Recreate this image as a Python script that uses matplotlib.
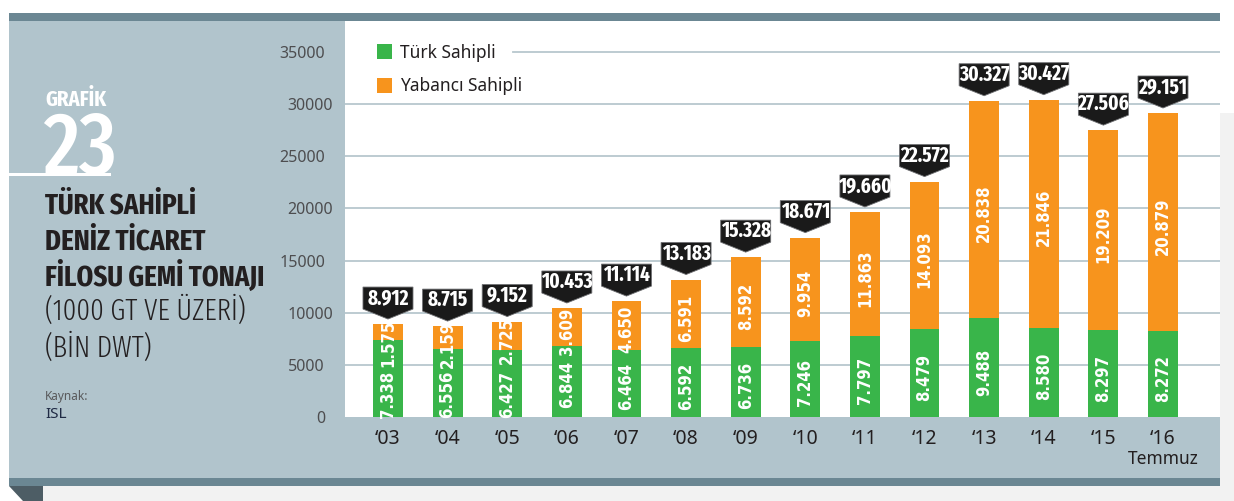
import matplotlib
matplotlib.use("Agg")
import matplotlib.pyplot as plt
import matplotlib.patches as mpatches
import matplotlib.transforms as mtransforms
from matplotlib import font_manager as fm
import numpy as np

# --- data (bin DWT) ---
years = ["\u201803", "\u201804", "\u201805", "\u201806", "\u201807", "\u201808", "\u201809",
         "\u201810", "\u201811", "\u201812", "\u201813", "\u201814", "\u201815", "\u201816"]
turk = [7338, 6556, 6427, 6844, 6464, 6592, 6736, 7246, 7797, 8479, 9488, 8580, 8297, 8272]
yabanci = [1575, 2159, 2725, 3609, 4650, 6591, 8592, 9954, 11863, 14093, 20838, 21846, 19209, 20879]
total_labels = ["8.912", "8.715", "9.152", "10.453", "11.114", "13.183", "15.328",
                "18.671", "19.660", "22.572", "30.327", "30.427", "27.506", "29.151"]
yticks = [0, 5000, 10000, 15000, 20000, 25000, 30000, 35000]

GREEN = "#39b54a"
ORANGE = "#f7941d"
DARK = "#231f20"
PANEL = "#b1c4cc"
BAND = "#6b8793"
GRID = "#b7c7ce"
SANS = ["Noto Sans", "DejaVu Sans"]


def narrow_font(weight, extra=True):
    # pick an installed condensed face, closest to the wanted weight
    best = None
    for f in fm.fontManager.ttflist:
        tag = (f.name + " " + str(f.stretch) + " " + f.fname).lower().replace("-", "").replace(" ", "")
        if "condensed" not in tag and "narrow" not in tag:
            continue
        if f.style != "normal" or "italic" in tag:
            continue
        w = f.weight if isinstance(f.weight, int) else fm.weight_dict.get(f.weight, 400)
        score = abs(w - weight)
        if "extracondensed" in tag:
            score += -300 if extra else 300
        elif "semicondensed" in tag:
            score += 100
        if best is None or score < best[0]:
            best = (score, f.fname)
    if best is None:
        return fm.FontProperties(family="DejaVu Sans", weight=weight)
    return fm.FontProperties(fname=best[1])


NB = narrow_font(700)
NM = narrow_font(500)
NL = narrow_font(300)
CB = narrow_font(700, extra=False)

W, H = 1234, 501
fig = plt.figure(figsize=(W / 100, H / 100), dpi=100)


def fx(px):
    return px / W


def fy(py):
    return 1 - py / H


def frect(x0, y0, x1, y1, color, z=-1):
    r = mpatches.Rectangle((fx(x0), fy(y1)), fx(x1) - fx(x0), fy(y0) - fy(y1),
                           transform=fig.transFigure, facecolor=color, lw=0, zorder=z)
    fig.add_artist(r)


def ftext(x, y, s, **kw):
    fig.text(fx(x), fy(y), s, **kw)


# background frame
frect(9, 13, 1220, 21, BAND)
frect(9, 21, 345, 478, PANEL)
frect(9, 417, 1220, 478, PANEL)
frect(9, 478, 1220, 486, BAND)
frect(43, 486, 1234, 501, "#f2f2f2")
frect(1220, 113, 1234, 501, "#f2f2f2")
fold = mpatches.Polygon([(fx(9), fy(486)), (fx(43), fy(486)), (fx(43), fy(501)), (fx(23), fy(501))],
                        closed=True, transform=fig.transFigure, facecolor="#4d5d65", lw=0, zorder=-1)
fig.add_artist(fold)
frect(9, 173, 111, 176, "white", z=1)

# left title block
ftext(45, 106, "GRAF\u0130K", color="white", fontproperties=NB, fontsize=16, va="baseline")
ftext(43, 174, "23", color="white", fontproperties=NM, fontsize=63, va="baseline")
for s, yb, fp in [("T\u00dcRK SAH\u0130PL\u0130", 213, NB),
                  ("DEN\u0130Z T\u0130CARET", 250, NB),
                  ("F\u0130LOSU GEM\u0130 TONAJI", 286, NB),
                  ("(1000 GT VE \u00dcZER\u0130)", 320, NL),
                  ("(B\u0130N DWT)", 357, NL)]:
    ftext(45, yb, s, color=DARK, fontproperties=fp, fontsize=21, va="baseline")
ftext(45, 400, "Kaynak:", color="#58595b", fontsize=8.5, family=SANS, va="baseline")
ftext(45, 418, "ISL", color="#1f2a44", fontsize=11, fontweight="bold", family=SANS, va="baseline")

# plot area
ax = fig.add_axes([fx(345), fy(417), fx(1220) - fx(345), fy(21) - fy(417)])
ax.set_facecolor("white")
x = np.arange(len(years))
ax.set_xlim(-0.721, 13.956)
ax.set_ylim(0, 37973)
for sp in ax.spines.values():
    sp.set_visible(False)

for v in yticks[1:]:
    xmin = (513 - 345) / 875 if v == 35000 else 0
    ax.axhline(v, xmin=xmin, xmax=1, color=GRID, lw=1.3, zorder=1)

b1 = ax.bar(x, turk, width=0.5, color=GREEN, zorder=3, label="T\u00fcrk Sahipli")
b2 = ax.bar(x, yabanci, width=0.5, bottom=turk, color=ORANGE, zorder=3, label="Yabanc\u0131 Sahipli")

ax.set_yticks(yticks)
ax.set_yticklabels([str(v) for v in yticks])
ax.tick_params(axis="y", length=0, pad=14.4, labelsize=11.5, labelcolor="#4d4d4f")
for lab in ax.get_yticklabels():
    lab.set_fontfamily(SANS)
for v, lab in zip(yticks, ax.get_yticklabels()):
    if v in (10000, 20000, 30000):
        lab.set_transform(lab.get_transform() + mtransforms.ScaledTranslation(0.08, 0, fig.dpi_scale_trans))

ax.set_xticks(x)
ax.set_xticklabels(years)
ax.tick_params(axis="x", length=0, pad=9, labelsize=14, labelcolor=DARK)
for lab in ax.get_xticklabels():
    lab.set_fontfamily(SANS)
    lab.set_fontweight("medium")
ax.text(13, -0.105, "Temmuz", transform=ax.get_xaxis_transform(), ha="center", va="center",
        fontsize=12.5, color=DARK, family=SANS, fontweight="medium")

# values inside bars
for i in range(len(years)):
    g, o = turk[i], yabanci[i]
    yg = 2200 if o < 3000 else g * 0.45
    ax.text(i, yg, f"{g / 1000:.3f}", rotation=90, ha="center", va="center", color="white",
            fontproperties=CB, fontsize=12, zorder=4)
    yo = min(g + o / 2 - 400, g + o - 1800)
    ax.text(i, yo, f"{o / 1000:.3f}", rotation=90, ha="center", va="center", color="white",
            fontproperties=CB, fontsize=12, zorder=4)

# total callouts
ident = mtransforms.IdentityTransform()
for i in range(len(years)):
    px, py = ax.transData.transform((i, turk[i] + yabanci[i]))
    tip = py + 5
    pts = [(px - 25, tip + 10), (px, tip), (px + 25, tip + 10), (px + 25, tip + 32), (px - 25, tip + 32)]
    fig.add_artist(mpatches.Polygon(pts, closed=True, transform=ident, facecolor="#1a1a1a",
                                    edgecolor="#6d6e71", lw=0.6, zorder=5))
    fig.text(px, tip + 21, total_labels[i], transform=ident, ha="center", va="center", color="white",
             fontproperties=NB, fontsize=15, zorder=6)

leg = ax.legend(handles=[b1, b2], loc="upper left", bbox_to_anchor=(fx(368), fy(35)),
                bbox_transform=fig.transFigure, frameon=False, borderpad=0, handlelength=0.9,
                handleheight=0.9, handletextpad=0.45, labelspacing=0.9,
                prop={"family": SANS, "size": 12.5, "weight": "medium"})
for t in leg.get_texts():
    t.set_color(DARK)

fig.savefig("out.png", dpi=100, facecolor="white")
